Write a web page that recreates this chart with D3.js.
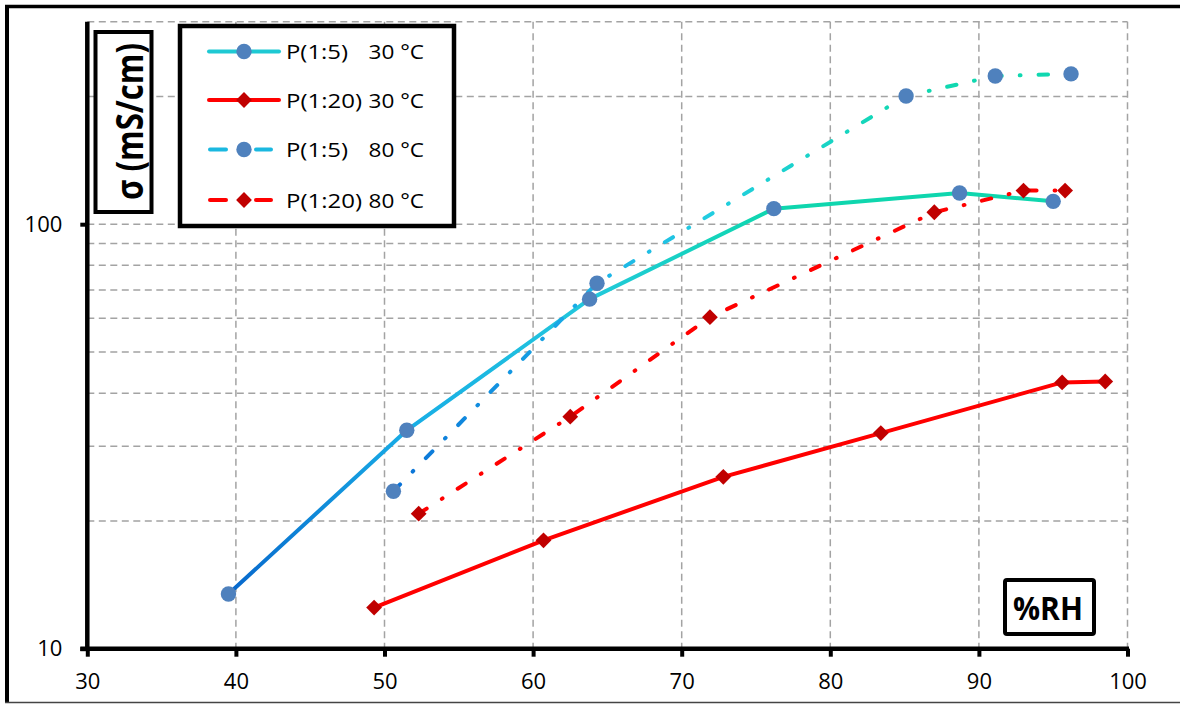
<!DOCTYPE html>
<html>
<head>
<meta charset="utf-8">
<script src="https://cdn.jsdelivr.net/npm/d3@7"></script>
<style>
  html, body { margin: 0; padding: 0; background: #fff; }
  svg { display: block; }
</style>
</head>
<body>
<svg id="chart" width="1180" height="704"></svg>
<script>
// ---------------- data ----------------
const xTicks = [30, 40, 50, 60, 70, 80, 90, 100];
const yTickLabels = [10, 100];
const yGridValues = [20, 30, 40, 50, 60, 70, 80, 90, 100, 200, 300];

const rh_P5_30  = [39.5, 51.5, 63.8, 76.2, 88.7, 95.0];
const sig_P5_30 = [13.45, 32.7, 66.6, 108.8, 118.4, 113.2];

const rh_P20_30  = [49.3, 60.7, 72.8, 83.4, 95.6, 98.5];
const sig_P20_30 = [12.5, 18.0, 25.4, 32.2, 42.4, 42.6];

const rh_P5_80  = [50.6, 64.3, 85.1, 91.1, 96.2];
const sig_P5_80 = [23.5, 72.6, 200.5, 223.4, 226.0];

const rh_P20_80  = [52.3, 62.5, 71.9, 87.0, 93.0, 95.8];
const sig_P20_80 = [20.8, 35.2, 60.4, 106.7, 120.0, 120.0];

const legendNames = ["P(1:5)", "P(1:20)", "P(1:5)", "P(1:20)"];
const legendTemps = ["30 °C", "30 °C", "80 °C", "80 °C"];
const yTitle = "σ (mS/cm)";
const xTitle = "%RH";

// ---------------- setup ----------------
const svg = d3.select("#chart");
const x = d3.scaleLinear().domain([30, 100]).range([87.3, 1127.5]);
const y = d3.scaleLog().domain([10, 300]).range([648.7, 648.7 - 424.5 * Math.log10(30)]);

const FONT = "'Open Sans', 'Liberation Sans', sans-serif";
const BLUE = "#4f81bd", DRED = "#c00000", RED = "#ff0000";

// gradients
const defs = svg.append("defs");
function grad(id, stops) {
  const x0 = x(stops[0][0]), x1 = x(stops[stops.length - 1][0]);
  const g = defs.append("linearGradient").attr("id", id)
    .attr("gradientUnits", "userSpaceOnUse")
    .attr("x1", x0).attr("x2", x1).attr("y1", 0).attr("y2", 0);
  stops.forEach(s => g.append("stop")
    .attr("offset", (x(s[0]) - x0) / (x1 - x0))
    .attr("stop-color", s[1]));
}
grad("g530", [[39.5, "#0767cc"], [51.5, "#18ade6"], [63.8, "#22c8dc"], [72, "#14d4bc"], [76.2, "#0fd6ae"], [95, "#0fd6ae"]]);
grad("g580", [[50.6, "#0a70d6"], [57, "#1290e0"], [64.3, "#1cb2e8"], [72, "#22cde0"], [80, "#18d4c4"], [85.1, "#10d8b0"], [96.2, "#10d8b0"]]);

// ---------------- gridlines ----------------
const grid = svg.append("g").attr("stroke", "#a3a3a3").attr("stroke-width", 1.5)
  .attr("stroke-dasharray", "7,4.5").attr("fill", "none");
grid.selectAll("line.h").data(yGridValues).join("line").attr("class", "h")
  .attr("x1", x(30)).attr("x2", x(100))
  .attr("y1", d => y(d)).attr("y2", d => y(d));
grid.selectAll("line.v").data(xTicks.filter(d => d > 30)).join("line").attr("class", "v")
  .attr("x1", d => x(d)).attr("x2", d => x(d))
  .attr("y1", y(300)).attr("y2", y(10));

// ---------------- axes ----------------
const xAxis = svg.append("g").attr("transform", `translate(0,${y(10)})`)
  .call(d3.axisBottom(x).tickValues(xTicks).tickSize(8).tickSizeOuter(0).tickPadding(17));
const yAxis = svg.append("g").attr("transform", `translate(${x(30)},0)`)
  .call(d3.axisLeft(y).tickValues(yTickLabels).tickFormat(d3.format("d")).tickSize(7).tickSizeOuter(0).tickPadding(18));
[xAxis, yAxis].forEach(a => {
  a.select(".domain").attr("stroke", "#000").attr("stroke-width", 4.5);
  a.selectAll(".tick line").attr("stroke", "#000").attr("stroke-width", 4);
  a.selectAll(".tick text").attr("fill", "#000")
    .style("font-family", FONT).style("font-size", "22px");
});
yAxis.select(".domain").attr("d", `M0,${y(10) + 2}V${y(300)}`);
xAxis.select(".domain").attr("d", `M${x(30) - 7},0H${x(100) + 1.5}`);

// ---------------- series ----------------
const line = d3.line().x(d => x(d[0])).y(d => y(d[1]));
const zip = (a, b) => a.map((v, i) => [v, b[i]]);
const DASHDOT = "9.5,18,0.8,18";

function drawLine(pts, stroke, dashed) {
  svg.append("path").datum(pts).attr("d", line).attr("fill", "none")
    .attr("stroke", stroke).attr("stroke-width", 4)
    .attr("stroke-linecap", "round").attr("stroke-linejoin", "round")
    .attr("stroke-dasharray", dashed ? DASHDOT : null);
}
const circ = d3.symbol(d3.symbolCircle, Math.PI * 7.7 * 7.7);
const diam = d3.symbol(d3.symbolSquare, 125);
function drawMarkers(pts, type) {
  svg.append("g").selectAll("path").data(pts).join("path")
    .attr("d", type === "c" ? circ : diam)
    .attr("transform", d => `translate(${x(d[0])},${y(d[1])})` + (type === "c" ? "" : " rotate(45)"))
    .attr("fill", type === "c" ? BLUE : DRED);
}

const p530 = zip(rh_P5_30, sig_P5_30);
const p2030 = zip(rh_P20_30, sig_P20_30);
const p580 = zip(rh_P5_80, sig_P5_80);
const p2080 = zip(rh_P20_80, sig_P20_80);

drawLine(p530, "url(#g530)", false);
drawLine(p2030, RED, false);
drawLine(p580, "url(#g580)", true);
drawLine(p2080, RED, true);
drawMarkers(p530, "c");
drawMarkers(p2030, "d");
drawMarkers(p580, "c");
drawMarkers(p2080, "d");

// ---------------- legend ----------------
const lg = svg.append("g");
lg.append("rect").attr("x", 180).attr("y", 26).attr("width", 274).attr("height", 200)
  .attr("fill", "#fff").attr("stroke", "#000").attr("stroke-width", 4.5);
const rowsY = [51.5, 100, 149.5, 200];
const lcol = ["#1ec9d3", RED, "#1ab8e0", RED];
rowsY.forEach((ry, i) => {
  const dashed = i >= 2;
  if (!dashed) {
    lg.append("line").attr("x1", 209).attr("x2", 279).attr("y1", ry).attr("y2", ry)
      .attr("stroke", lcol[i]).attr("stroke-width", 4).attr("stroke-linecap", "round");
  } else {
    [[210, 226], [256, 271]].forEach(s => lg.append("line")
      .attr("x1", s[0]).attr("x2", s[1]).attr("y1", ry).attr("y2", ry)
      .attr("stroke", lcol[i]).attr("stroke-width", 4).attr("stroke-linecap", "round"));
  }
  lg.append("path").attr("d", i % 2 === 0 ? circ : diam)
    .attr("transform", `translate(244,${ry})` + (i % 2 === 0 ? "" : " rotate(45)"))
    .attr("fill", i % 2 === 0 ? BLUE : DRED);
  lg.append("text").attr("x", 286).attr("y", ry + 7.5).text(legendNames[i])
    .attr("textLength", legendNames[i].length === 6 ? 62 : 76).attr("lengthAdjust", "spacingAndGlyphs")
    .style("font-family", FONT).style("font-size", "20.5px").attr("fill", "#000");
  lg.append("text").attr("x", 368.5).attr("y", ry + 7.5).text(legendTemps[i])
    .attr("textLength", 55.5).attr("lengthAdjust", "spacingAndGlyphs")
    .style("font-family", FONT).style("font-size", "20.5px").attr("fill", "#000");
});

// ---------------- y title box ----------------
svg.append("rect").attr("x", 95.5).attr("y", 32).attr("width", 56).attr("height", 180)
  .attr("fill", "#fff").attr("stroke", "#000").attr("stroke-width", 4);
svg.append("text")
  .attr("transform", "translate(142.5,121.5) scale(1.17,1) rotate(-90)")
  .attr("text-anchor", "middle").attr("textLength", 157).attr("lengthAdjust", "spacingAndGlyphs")
  .style("font-family", FONT).style("font-size", "32px").style("font-weight", "bold")
  .attr("fill", "#000").text(yTitle);

// ---------------- x title box ----------------
svg.append("rect").attr("x", 1005).attr("y", 580).attr("width", 89).attr("height", 54)
  .attr("rx", 2).attr("fill", "#fff").attr("stroke", "#000").attr("stroke-width", 4);
svg.append("text").attr("x", 1013).attr("y", 620)
  .attr("textLength", 70).attr("lengthAdjust", "spacingAndGlyphs")
  .style("font-family", FONT).style("font-size", "32px").style("font-weight", "bold")
  .attr("fill", "#000").text(xTitle);

// ---------------- outer frame ----------------
svg.append("line").attr("x1", 5).attr("x2", 1180).attr("y1", 6.5).attr("y2", 6.5)
  .attr("stroke", "#000").attr("stroke-width", 3.5);
svg.append("line").attr("x1", 7).attr("x2", 7).attr("y1", 5).attr("y2", 703)
  .attr("stroke", "#000").attr("stroke-width", 4);
svg.append("line").attr("x1", 5).attr("x2", 1180).attr("y1", 702.5).attr("y2", 702.5)
  .attr("stroke", "#444").attr("stroke-width", 1.5);
</script>
</body>
</html>
